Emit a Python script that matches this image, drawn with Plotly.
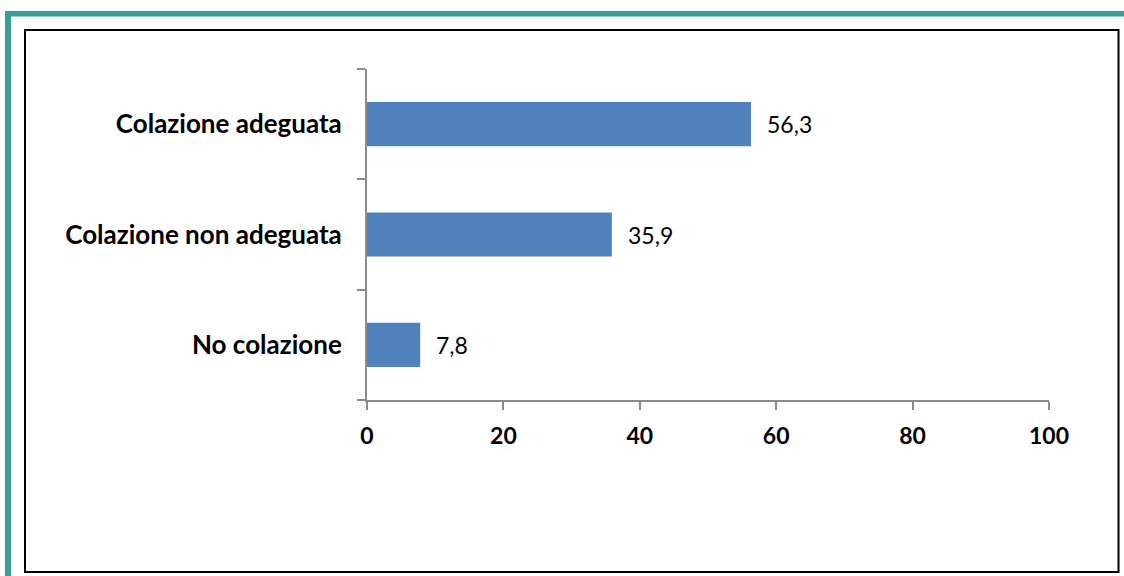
import plotly.graph_objects as go

categories = ["No colazione", "Colazione non adeguata", "Colazione adeguata"]
values = [7.8, 35.9, 56.3]
value_labels = ["7,8", "35,9", "56,3"]
x_ticks = [0, 20, 40, 60, 80, 100]

W, H = 1124, 576
L, R, T, B = 367, 1049, 69, 400

def px(x):
    return (x - L) / (R - L)

def py(y):
    return (B - y) / (B - T)

FONT = "Lato"
TEAL = "#3A9D97"

fig = go.Figure(go.Bar(
    x=values, y=categories, orientation="h",
    marker=dict(color="#4F81BD", line=dict(width=0)),
    width=0.4, hoverinfo="skip",
))

for c, v, lab in zip(categories, values, value_labels):
    fig.add_annotation(x=v, y=c, text=lab, showarrow=False, xanchor="left",
                       xshift=14, font=dict(family=FONT, size=23, color="#000000"))

shapes = [
    dict(type="rect", xref="paper", yref="paper", x0=px(5), x1=px(1124), y0=py(11), y1=py(16.5),
         fillcolor=TEAL, line=dict(width=0), layer="below"),
    dict(type="rect", xref="paper", yref="paper", x0=px(5), x1=px(11), y0=py(11), y1=py(576),
         fillcolor=TEAL, line=dict(width=0), layer="below"),
    dict(type="rect", xref="paper", yref="paper", x0=px(25), x1=px(1118.5), y0=py(30), y1=py(572),
         line=dict(color="#000000", width=2), layer="below"),
]

fig.update_layout(
    width=W, height=H,
    margin=dict(l=L, r=W - R, t=T, b=H - B, pad=0),
    paper_bgcolor="white", plot_bgcolor="white",
    showlegend=False,
    shapes=shapes,
    xaxis=dict(range=[0, 100], tickvals=x_ticks, ticktext=[str(t) for t in x_ticks],
               showgrid=False, zeroline=False, showline=True, linecolor="#8C8C8C", linewidth=2,
               ticks="outside", ticklen=8, tickwidth=1.5, tickcolor="#8C8C8C",
               ticklabelstandoff=6,
               tickfont=dict(family=FONT, size=23, color="#000000", weight="bold"),
               fixedrange=True),
    yaxis=dict(categoryorder="array", categoryarray=categories, range=[-0.5, 2.5],
               showgrid=False, zeroline=False, showline=True, linecolor="#8C8C8C", linewidth=2,
               ticks="outside", ticklen=8, tickwidth=1.5, tickcolor="#8C8C8C", tickson="boundaries",
               ticklabelstandoff=18,
               tickfont=dict(family=FONT, size=26, color="#000000", weight="bold"),
               fixedrange=True),
)

fig.write_html("out.html", config={"displayModeBar": False},
               post_script="document.body.style.margin='0';document.body.style.overflow='hidden';")
